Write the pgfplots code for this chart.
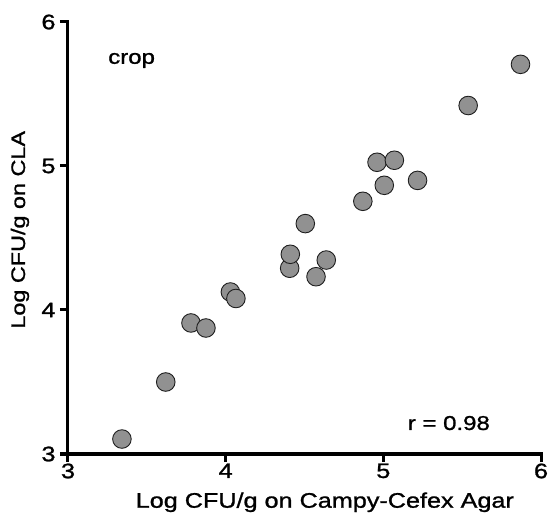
\documentclass[border=0pt]{standalone}
\usepackage{fontspec}
\setmainfont{Liberation Sans}[FakeStretch=1.2, FakeBold=1.2]
\usepackage{pgfplots}
\pgfplotsset{compat=1.18}
\usetikzlibrary{calc}
\definecolor{dotfill}{RGB}{145,145,145}
\definecolor{dotline}{RGB}{30,30,30}
\begin{document}
\begin{tikzpicture}
\begin{axis}[
  scale only axis,
  width=473bp, height=432bp,
  xmin=3, xmax=6, ymin=3, ymax=6,
  axis x line*=bottom, axis y line*=left,
  separate axis lines,
  every outer x axis line/.append style={line width=3bp, line cap=rect, -},
  every outer y axis line/.append style={line width=3bp, line cap=rect, -},
  x axis line style={line width=3bp},
  y axis line style={line width=3bp},
  major tick style={line width=3bp, black},
  tick align=outside,
  major tick length=8bp,
  xtick={3,4,5,6}, ytick={3,4,5,6},
  clip=false,
  /pgf/number format/assume math mode=true,
  tick label style={font=\fontsize{21bp}{24bp}\selectfont},
  xticklabel style={yshift=2bp},
  yticklabel style={xshift=-1bp},
  label style={font=\fontsize{21bp}{24bp}\selectfont},
  xlabel={Log CFU/g on Campy-Cefex Agar},
  ylabel={Log CFU/g on CLA},
  xlabel style={at={(axis description cs:0.543,0)}, anchor=base, yshift=-53.7bp},
  ylabel style={at={(axis description cs:0,0.519)}, anchor=base, rotate=0, yshift=43bp, font=\fontsize{19.5bp}{24bp}\selectfont},
]
\coordinate (ll) at (rel axis cs:0,0);
\coordinate (ur) at (rel axis cs:1,1);
\addplot[only marks, mark=*, mark size=9.3bp, line width=0.9bp,
  mark options={fill=dotfill, draw=dotline, line width=0.9bp}]
  coordinates {
  (3.342,3.104) (3.620,3.500) (3.780,3.910) (3.875,3.875)
  (4.030,4.125) (4.065,4.080) (4.406,4.290) (4.410,4.387)
  (4.505,4.600) (4.573,4.231) (4.638,4.347) (4.870,4.755)
  (4.960,5.026) (5.006,4.866) (5.070,5.040) (5.217,4.900)
  (5.538,5.420) (5.870,5.706)
  };
\node[anchor=base west, inner sep=0pt, font=\fontsize{20bp}{24bp}\selectfont] at (axis cs:3.254,5.71) {crop};
\node[anchor=base west, inner sep=0pt, font=\fontsize{20bp}{24bp}\selectfont] at (axis cs:5.154,3.167) {r = 0.98};
\end{axis}
\pgfresetboundingbox
\path ($(ll)+(-68bp,-62bp)$) rectangle ($(ur)+(8bp,22bp)$);
\end{tikzpicture}
\end{document}
